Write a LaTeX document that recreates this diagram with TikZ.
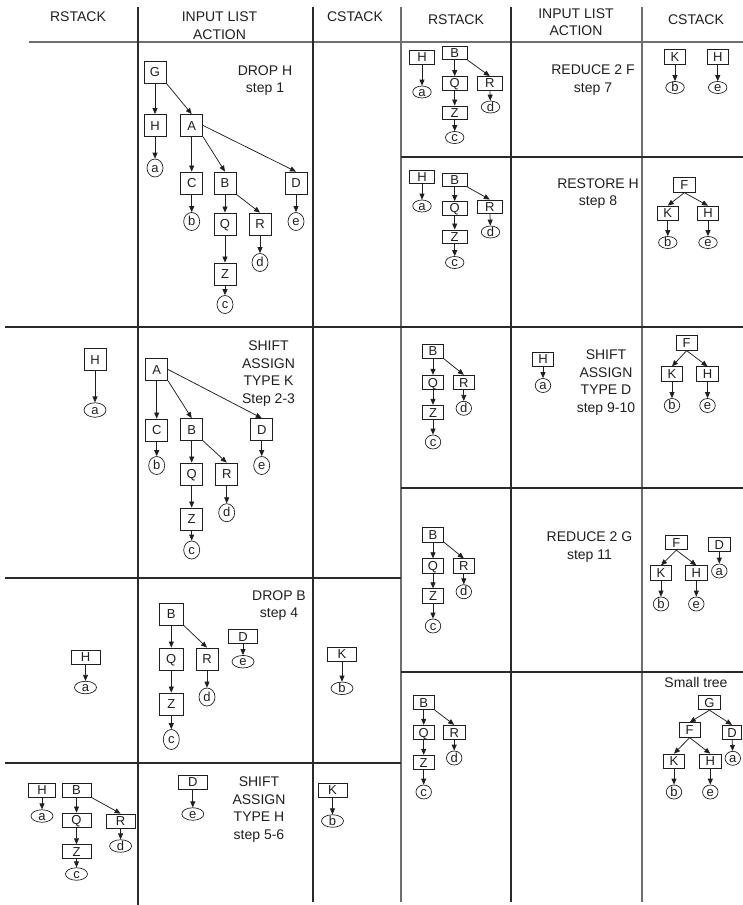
\documentclass[tikz,border=0pt]{standalone}
\usepackage{fontspec}
\setmainfont{Liberation Sans}
\usepackage{tikz}
\usetikzlibrary{arrows.meta,positioning,shapes.geometric}
\definecolor{ruledark}{HTML}{2A2A2A}
\definecolor{rulegray}{HTML}{6E6E6E}
\definecolor{inkdark}{HTML}{1F1F1F}

\begin{document}
\begin{tikzpicture}[
  x=1pt, y=-1pt,
  every node/.style={text=inkdark},
  sym/.style={draw=inkdark, line width=0.8pt, rectangle, inner sep=0pt,
              text height=9.3pt, text depth=0pt, font=\fontsize{13}{13}\selectfont},
  leaf/.style={draw=inkdark, line width=0.7pt, ellipse, inner sep=0pt,
               text height=8pt, text depth=0pt, font=\fontsize{13}{13}\selectfont},
  bigbox/.style={sym, minimum width=22, minimum height=22},
  widebox/.style={sym, minimum width=29, minimum height=14},
  midbox/.style={sym, minimum width=25, minimum height=13.5},
  smallbox/.style={sym, minimum width=21.5, minimum height=14.5},
  tallleaf/.style={leaf, minimum width=16, minimum height=18},
  flatleaf/.style={leaf, minimum width=22, minimum height=12.5},
  midleaf/.style={leaf, minimum width=18.5, minimum height=12},
  roundleaf/.style={leaf, minimum width=15.5, minimum height=14},
  arr/.style={color=inkdark, line width=0.75pt, -{Triangle[length=6pt,width=5pt]}},
  rule/.style={draw=ruledark, line width=1.1pt},
  greyrule/.style={draw=rulegray, line width=1.4pt},
  head/.style={anchor=north, inner sep=0pt, align=center, font=\fontsize{14}{17.5}\selectfont},
  act/.style={anchor=north, inner sep=0pt, align=center, font=\fontsize{14}{17.5}\selectfont},
]
\useasboundingbox (0,0) rectangle (743,905);

% table rules
\draw[greyrule] (29,42) -- (743,42);
\draw[rule] (138,7) -- (138,905);
\draw[rule] (313,7) -- (313,902);
\draw[greyrule] (401,7) -- (401,902);
\draw[rule] (511,7) -- (511,902);
\draw[greyrule] (642,7) -- (642,902);
\draw[rule] (5,327) -- (743,327);
\draw[rule] (5,578) -- (401,578);
\draw[rule] (5,763) -- (401,763);
\draw[rule] (401,157) -- (743,157);
\draw[rule] (401,488) -- (743,488);
\draw[rule] (401,672) -- (743,672);

% column heads
\node[head] (lrstack) at (78,11.7) {RSTACK};
\node[head] (linput) at (219.5,11.7) {INPUT LIST\\ACTION};
\node[head] (lcstack) at (355,11.7) {CSTACK};
\node[head] (rrstack) at (456,15) {RSTACK};
\node[head] (rinput) at (576,8.3) {INPUT LIST\\ACTION};
\node[head] (rcstack) at (696,15) {CSTACK};

% step 1
\node[act] (s1txt) at (265,65.5) {DROP H\\step 1};
\node[bigbox] (s1G) at (155,72) {G};
\node[bigbox] (s1H) at (155,125.5) {H};
\node[bigbox] (s1A) at (191.7,125.5) {A};
\node[tallleaf] (s1a) at (155,168) {a};
\node[bigbox] (s1C) at (191.7,183) {C};
\node[bigbox] (s1B) at (225,183) {B};
\node[bigbox] (s1D) at (296,183) {D};
\node[tallleaf] (s1b) at (191.7,221.5) {b};
\node[bigbox] (s1Q) at (225,224) {Q};
\node[bigbox] (s1R) at (260,224) {R};
\node[tallleaf] (s1e) at (296,221.5) {e};
\node[tallleaf] (s1d) at (260,262.5) {d};
\node[bigbox] (s1Z) at (225,274) {Z};
\node[tallleaf] (s1c) at (225,304.5) {c};
\path[arr] (s1G) edge (s1H)
  (s1G.south east) edge (s1A.north)
  (s1H) edge (s1a)
  (s1A) edge (s1C)
  (s1A.south east) edge (s1B.north)
  (s1A.east) edge (s1D.north)
  (s1C) edge (s1b)
  (s1B) edge (s1Q)
  (s1B.south east) edge (s1R.north)
  (s1D) edge (s1e)
  (s1Q) edge (s1Z)
  (s1Z) edge (s1c)
  (s1R) edge (s1d);

% steps 2-3
\node[bigbox] (r2H) at (95,359.5) {H};
\node[flatleaf, minimum height=14.5] (r2a) at (95,410) {a};
\path[arr] (r2H) edge (r2a);
\node[act] (s2txt) at (268.5,341) {SHIFT\\ASSIGN\\TYPE K\\Step 2-3};
\node[bigbox] (s2A) at (156.7,369.5) {A};
\node[bigbox] (s2C) at (156.7,430) {C};
\node[bigbox] (s2B) at (191.7,429.5) {B};
\node[bigbox] (s2D) at (261.7,429.5) {D};
\node[tallleaf] (s2b) at (156.7,465.5) {b};
\node[bigbox] (s2Q) at (191.7,474) {Q};
\node[bigbox] (s2R) at (226.7,474) {R};
\node[tallleaf] (s2e) at (261.7,465.5) {e};
\node[tallleaf] (s2d) at (226.7,512.7) {d};
\node[bigbox] (s2Z) at (191.7,519) {Z};
\node[tallleaf] (s2c) at (191.7,550) {c};
\path[arr] (s2A) edge (s2C)
  (s2A.south east) edge (s2B.north)
  (s2A.east) edge (s2D.north)
  (s2C) edge (s2b)
  (s2B) edge (s2Q)
  (s2B.south east) edge (s2R.north)
  (s2D) edge (s2e)
  (s2Q) edge (s2Z)
  (s2Z) edge (s2c)
  (s2R) edge (s2d);

% step 4
\node[widebox] (r4H) at (85.5,657) {H};
\node[flatleaf] (r4a) at (85.5,687.5) {a};
\path[arr] (r4H) edge (r4a);
\node[act] (s4txt) at (279,590.5) {DROP B\\step 4};
\node[bigbox, minimum width=24] (s4B) at (171.3,614) {B};
\node[bigbox, minimum width=24] (s4Q) at (171.3,659) {Q};
\node[bigbox] (s4R) at (207,659) {R};
\node[widebox] (s4D) at (243,636.7) {D};
\node[flatleaf] (s4e) at (243,661.7) {e};
\node[tallleaf] (s4d) at (207,697) {d};
\node[bigbox, minimum width=24] (s4Z) at (171.3,704) {Z};
\node[tallleaf, minimum height=20] (s4c) at (171.3,739.5) {c};
\path[arr] (s4B) edge (s4Q)
  (s4B.south east) edge (s4R.north)
  (s4Q) edge (s4Z)
  (s4Z) edge (s4c)
  (s4R) edge (s4d)
  (s4D) edge (s4e);
\node[widebox] (c4K) at (342,654) {K};
\node[flatleaf] (c4b) at (342,688.3) {b};
\path[arr] (c4K) edge (c4b);

% steps 5-6
\node[widebox, minimum width=27] (r5H) at (42,790) {H};
\node[widebox] (r5B) at (76.5,790) {B};
\node[flatleaf] (r5a) at (42,816) {a};
\node[widebox] (r5Q) at (76.5,820) {Q};
\node[widebox] (r5R) at (120.6,821) {R};
\node[widebox] (r5Z) at (76.5,851.7) {Z};
\node[flatleaf] (r5d) at (120.6,846) {d};
\node[flatleaf] (r5c) at (76.5,874) {c};
\path[arr] (r5H) edge (r5a)
  (r5B) edge (r5Q)
  (r5B.south east) edge (r5R.north)
  (r5Q) edge (r5Z)
  (r5Z) edge (r5c)
  (r5R) edge (r5d);
\node[widebox] (s5D) at (192.8,782) {D};
\node[flatleaf] (s5e) at (192.8,814) {e};
\path[arr] (s5D) edge (s5e);
\node[act] (s5txt) at (259,776.7) {SHIFT\\ASSIGN\\TYPE H\\step 5-6};
\node[widebox] (c5K) at (332.5,790) {K};
\node[flatleaf] (c5b) at (332.5,821) {b};
\path[arr] (c5K) edge (c5b);

% step 7
\node[midbox] (r7H) at (422,57.3) {H};
\node[midleaf] (r7a) at (422,92) {a};
\node[midbox] (r7B) at (454.7,53) {B};
\node[midbox] (r7Q) at (454.7,83.3) {Q};
\node[midbox] (r7R) at (489.8,83.3) {R};
\node[midbox] (r7Z) at (454.7,112.7) {Z};
\node[midleaf] (r7d) at (490.5,107) {d};
\node[midleaf] (r7c) at (454.7,137.5) {c};
\path[arr] (r7H) edge (r7a)
  (r7B) edge (r7Q)
  (r7B.south east) edge (r7R.north)
  (r7Q) edge (r7Z)
  (r7Z) edge (r7c)
  (r7R) edge (r7d);
\node[act] (s7txt) at (593,65) {REDUCE 2 F\\step 7};
\node[smallbox] (c7K) at (675,57) {K};
\node[midleaf] (c7b) at (675,87.5) {b};
\node[smallbox] (c7H) at (717.7,57) {H};
\node[midleaf] (c7e) at (717.7,87.5) {e};
\path[arr] (c7K) edge (c7b)
  (c7H) edge (c7e);

% step 8
\node[midbox] (r8H) at (422,176.7) {H};
\node[midleaf] (r8a) at (422,206) {a};
\node[midbox] (r8B) at (454.7,180) {B};
\node[midbox] (r8Q) at (454.7,208.3) {Q};
\node[midbox] (r8R) at (489.8,206.7) {R};
\node[midbox] (r8Z) at (454.7,236.7) {Z};
\node[midleaf] (r8d) at (490.5,232) {d};
\node[midleaf] (r8c) at (454.7,262.5) {c};
\path[arr] (r8H) edge (r8a)
  (r8B) edge (r8Q)
  (r8B.south east) edge (r8R.north)
  (r8Q) edge (r8Z)
  (r8Z) edge (r8c)
  (r8R) edge (r8d);
\node[act] (s8txt) at (598,178.5) {RESTORE H\\step 8};
\node[smallbox] (c8F) at (684.3,185) {F};
\node[smallbox] (c8K) at (667.8,213.3) {K};
\node[smallbox] (c8H) at (708,213.3) {H};
\node[midleaf] (c8b) at (667.8,242.5) {b};
\node[midleaf] (c8e) at (708,242.5) {e};
\path[arr] (c8F.south) edge (c8K.north)
  (c8F.south) edge (c8H.north)
  (c8K) edge (c8b)
  (c8H) edge (c8e);

% steps 9-10
\node[smallbox] (r9B) at (433,351.3) {B};
\node[smallbox] (r9Q) at (433,382.5) {Q};
\node[smallbox] (r9R) at (463.8,382.5) {R};
\node[smallbox] (r9Z) at (433,412.5) {Z};
\node[roundleaf] (r9d) at (463.8,408.3) {d};
\node[roundleaf] (r9c) at (433,442) {c};
\path[arr] (r9B) edge (r9Q)
  (r9B.south east) edge (r9R.north)
  (r9Q) edge (r9Z)
  (r9Z) edge (r9c)
  (r9R) edge (r9d);
\node[smallbox] (s9H) at (543,359.2) {H};
\node[roundleaf] (s9a) at (543,385.5) {a};
\path[arr] (s9H) edge (s9a);
\node[act] (s9txt) at (606,350) {SHIFT\\ASSIGN\\TYPE D\\step 9-10};
\node[smallbox] (c9F) at (686.7,343) {F};
\node[smallbox] (c9K) at (672,374) {K};
\node[smallbox] (c9H) at (707.5,374) {H};
\node[roundleaf] (c9b) at (672,405.5) {b};
\node[roundleaf] (c9e) at (707.5,405.5) {e};
\path[arr] (c9F.south) edge (c9K.north)
  (c9F.south) edge (c9H.north)
  (c9K) edge (c9b)
  (c9H) edge (c9e);

% step 11
\node[smallbox] (r11B) at (433,534.7) {B};
\node[smallbox] (r11Q) at (433,566) {Q};
\node[smallbox] (r11R) at (463.8,566) {R};
\node[smallbox] (r11Z) at (433,596) {Z};
\node[roundleaf] (r11d) at (463.8,591.7) {d};
\node[roundleaf] (r11c) at (433,626) {c};
\path[arr] (r11B) edge (r11Q)
  (r11B.south east) edge (r11R.north)
  (r11Q) edge (r11Z)
  (r11Z) edge (r11c)
  (r11R) edge (r11d);
\node[act] (s11txt) at (589.5,531.7) {REDUCE 2 G\\step 11};
\node[smallbox] (c11F) at (676.3,542.5) {F};
\node[smallbox] (c11D) at (719.3,544.5) {D};
\node[roundleaf] (c11a) at (719.3,571) {a};
\node[smallbox] (c11K) at (661,573) {K};
\node[smallbox] (c11H) at (696.3,573) {H};
\node[roundleaf] (c11b) at (661,604) {b};
\node[roundleaf] (c11e) at (696.3,604) {e};
\path[arr] (c11F.south) edge (c11K.north)
  (c11F.south) edge (c11H.north)
  (c11K) edge (c11b)
  (c11H) edge (c11e)
  (c11D) edge (c11a);

% final
\node[smallbox] (r12B) at (423.7,702.5) {B};
\node[smallbox] (r12Q) at (423.7,732.5) {Q};
\node[smallbox] (r12R) at (454.2,732.5) {R};
\node[smallbox] (r12Z) at (423.7,762.5) {Z};
\node[roundleaf] (r12d) at (454.2,758) {d};
\node[roundleaf] (r12c) at (423.7,792) {c};
\path[arr] (r12B) edge (r12Q)
  (r12B.south east) edge (r12R.north)
  (r12Q) edge (r12Z)
  (r12Z) edge (r12c)
  (r12R) edge (r12d);
\node[font=\fontsize{14}{14}\selectfont] (c12txt) at (696,682.5) {Small tree};
\node[smallbox] (c12G) at (709.5,702.5) {G};
\node[smallbox] (c12F) at (689.7,730) {F};
\node[smallbox, minimum width=19.5] (c12D) at (732,732.5) {D};
\node[smallbox] (c12K) at (674,761.3) {K};
\node[smallbox] (c12H) at (710.3,761.3) {H};
\node[roundleaf] (c12a) at (732.8,758.3) {a};
\node[roundleaf] (c12b) at (674,792) {b};
\node[roundleaf] (c12e) at (710.3,792) {e};
\path[arr] (c12G.south) edge (c12F.north)
  (c12G.south) edge (c12D.north)
  (c12F.south) edge (c12K.north)
  (c12F.south) edge (c12H.north)
  (c12K) edge (c12b)
  (c12H) edge (c12e)
  (c12D) edge (c12a);
\end{tikzpicture}
\end{document}
